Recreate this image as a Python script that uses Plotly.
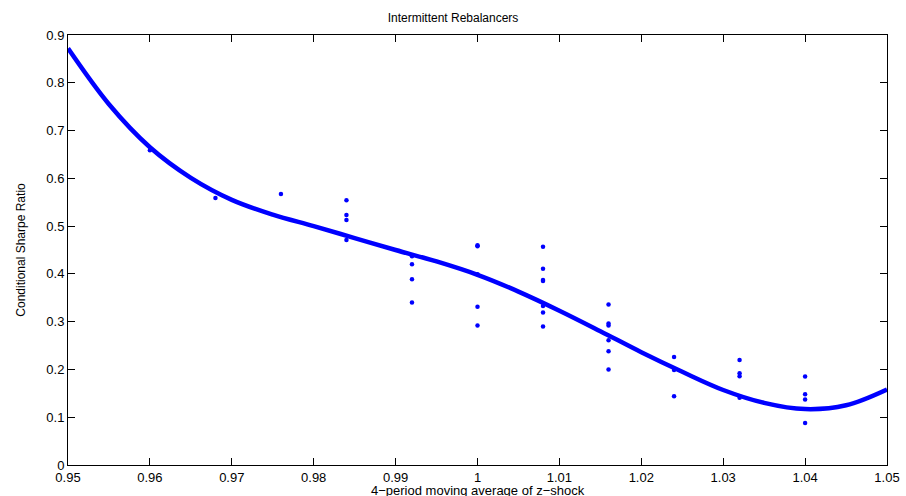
import plotly.graph_objects as go

# Scatter data (x, y)
pt_x = [0.960, 0.968, 0.976,
        0.984, 0.984, 0.984, 0.984,
        0.992, 0.992, 0.992, 0.992,
        1.000, 1.000, 1.000, 1.000, 1.000,
        1.008, 1.008, 1.008, 1.008, 1.008, 1.008, 1.008,
        1.016, 1.016, 1.016, 1.016, 1.016, 1.016,
        1.024, 1.024, 1.024,
        1.032, 1.032, 1.032, 1.032,
        1.040, 1.040, 1.040, 1.040]
pt_y = [0.659, 0.559, 0.567,
        0.554, 0.523, 0.513, 0.471,
        0.437, 0.420, 0.389, 0.340,
        0.460, 0.458, 0.399, 0.331, 0.292,
        0.457, 0.411, 0.387, 0.385, 0.333, 0.319, 0.290,
        0.336, 0.296, 0.292, 0.261, 0.238, 0.200,
        0.226, 0.199, 0.144,
        0.220, 0.192, 0.186, 0.141,
        0.185, 0.148, 0.137, 0.088]

# Fitted curve, sampled from the chart
fit_x = [0.950, 0.955, 0.960, 0.965, 0.970, 0.975, 0.980, 0.985, 0.990,
         0.995, 1.000, 1.005, 1.010, 1.015, 1.020, 1.025, 1.030, 1.035, 1.040,
         1.045, 1.050]
fit_y = [0.872, 0.755, 0.665, 0.601, 0.555, 0.524, 0.500, 0.475, 0.450,
         0.426, 0.398, 0.363, 0.323, 0.280, 0.236, 0.195, 0.157, 0.130, 0.117,
         0.125, 0.158]

x_ticks = [0.95, 0.96, 0.97, 0.98, 0.99, 1.00, 1.01, 1.02, 1.03, 1.04, 1.05]
x_labels = ["0.95", "0.96", "0.97", "0.98", "0.99", "1", "1.01", "1.02", "1.03", "1.04", "1.05"]
y_ticks = [0, 0.1, 0.2, 0.3, 0.4, 0.5, 0.6, 0.7, 0.8, 0.9]
y_labels = ["0", "0.1", "0.2", "0.3", "0.4", "0.5", "0.6", "0.7", "0.8", "0.9"]
x_title = "4\u2212period moving average of z\u2212shock"

FONT = "Liberation Sans, Arial, sans-serif"

fig = go.Figure()
fig.add_trace(go.Scatter(x=pt_x, y=pt_y, mode="markers",
                         marker=dict(color="#0000ff", size=4.5, symbol="circle"),
                         showlegend=False, hoverinfo="x+y"))
fig.add_trace(go.Scatter(x=fit_x, y=fit_y, mode="lines", line_shape="spline",
                         line=dict(color="#0000ff", width=4.5),
                         showlegend=False, hoverinfo="x+y"))

axis_common = dict(showline=True, linecolor="black", linewidth=1, mirror="ticks",
                   ticks="inside", ticklen=7, tickcolor="black", tickwidth=1,
                   showgrid=False, zeroline=False, automargin=False,
                   tickfont=dict(family=FONT, size=13, color="black"))

fig.update_layout(
    width=906, height=496,
    margin=dict(l=68, r=19, t=35, b=31),
    paper_bgcolor="white", plot_bgcolor="white",
    title=dict(text="Intermittent Rebalancers", x=0.5, xanchor="center",
               y=1 - 18 / 496, yanchor="middle",
               font=dict(family=FONT, size=12, color="black")),
    xaxis=dict(range=[0.95, 1.05], tickvals=x_ticks, ticktext=x_labels, ticklabelstandoff=0,
               **axis_common),
    yaxis=dict(range=[0, 0.9], tickvals=y_ticks, ticktext=y_labels,
               title=dict(text="Conditional Sharpe Ratio", standoff=18,
                          font=dict(family="Liberation Sans Narrow, " + FONT, size=12, color="black")),
               **axis_common),
    annotations=[dict(text=x_title, xref="paper", yref="paper", x=0.5, y=-(491 - 465) / 430,
                      xanchor="center", yanchor="middle", showarrow=False,
                      font=dict(family=FONT, size=13, color="black"))],
)

fig.write_html("out.html")
